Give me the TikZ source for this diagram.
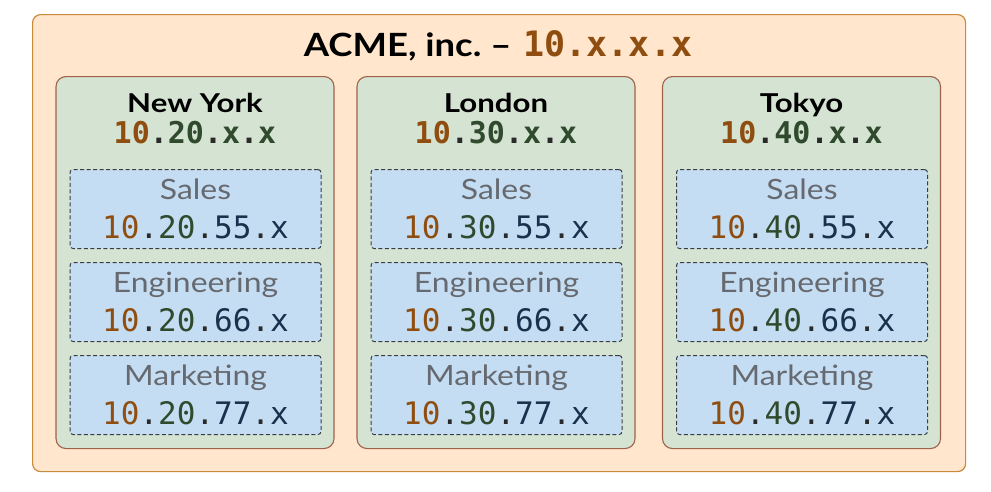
\documentclass[tikz,border=0pt]{standalone}
\usepackage{fontspec}
\setmainfont{Lato}[FakeStretch=1.14]
\newfontfamily\citysans{Lato}[FakeStretch=1.2]
\setmonofont{DejaVu Sans Mono}
\definecolor{outerfill}{HTML}{FFE6CC}
\definecolor{outerdraw}{HTML}{C98A3C}
\definecolor{cityfill}{HTML}{D5E3D2}
\definecolor{citydraw}{HTML}{A0614A}
\definecolor{subfill}{HTML}{C5DDF3}
\definecolor{subdraw}{HTML}{3A3D42}
\definecolor{cbrown}{HTML}{8F4E10}
\definecolor{cgreen}{HTML}{2F4A2D}
\definecolor{cnavy}{HTML}{18324D}
\definecolor{cdot}{HTML}{2A2A2A}
\definecolor{lblgray}{HTML}{666A70}
\newcommand\tenC{\textcolor{cbrown}{10}}
\newcommand\dotC{\textcolor{cdot}{.}}
\begin{document}
\begin{tikzpicture}[x=1pt,y=-1pt,
  outerbox/.style={draw=outerdraw,fill=outerfill,line width=1.2pt,rounded corners=8pt,inner sep=0pt},
  citybox/.style={draw=citydraw,fill=cityfill,line width=1.1pt,rounded corners=10pt,inner sep=0pt},
  subbox/.style={draw=subdraw,fill=subfill,line width=1pt,dash pattern=on 4pt off 2.5pt,rounded corners=3pt,inner sep=0pt},
  titletxt/.style={inner sep=0pt,anchor=base,font=\fontsize{32}{38}\selectfont\bfseries},
  citytxt/.style={inner sep=0pt,anchor=base,font=\citysans\fontsize{26}{30}\selectfont\bfseries},
  cityip/.style={inner sep=0pt,anchor=base,font=\fontsize{30}{36}\selectfont\ttfamily\bfseries},
  sublbl/.style={inner sep=0pt,anchor=base,text=lblgray,font=\fontsize{28}{34}\selectfont},
  subip/.style={inner sep=0pt,anchor=base,font=\fontsize{31}{36}\selectfont\ttfamily},
]
\useasboundingbox (0,0) rectangle (991,491);
\node[outerbox,anchor=north west,minimum width=933pt,minimum height=457pt] (acme) at (32,14) {};
\node[titletxt] (title) at (498,56) {ACME, inc.\hspace{9pt}--\hspace{12pt}{\ttfamily\fontsize{35}{40}\selectfont\textcolor{cbrown}{10.x.x.x}}};
\foreach \cx/\name/\n in {195/New York/20, 496/London/30, 801.5/Tokyo/40}{
  \node[citybox,anchor=north,minimum width=278pt,minimum height=372pt] (city\n) at (\cx,76) {};
  \node[citytxt] (cname\n) at (\cx,112) {\name};
  \node[cityip] (cip\n) at (\cx,143) {\tenC\dotC\textcolor{cgreen}{\n}\dotC\textcolor{cgreen}{x}\dotC\textcolor{cgreen}{x}};
  \foreach \dept/\d/\top in {Sales/55/169, Engineering/66/262, Marketing/77/355}{
    \node[subbox,anchor=north,minimum width=251pt,minimum height=79pt] (sub\n\d) at (\cx+0.5,\top) {};
    \node[sublbl] (slbl\n\d) at (\cx+0.5,\top+30) {\dept};
    \node[subip] (sip\n\d) at (\cx+0.5,\top+69) {\tenC\dotC\textcolor{cgreen}{\n}\dotC\textcolor{cnavy}{\d}\dotC\textcolor{cnavy}{x}};
  }
}
\end{tikzpicture}
\end{document}
